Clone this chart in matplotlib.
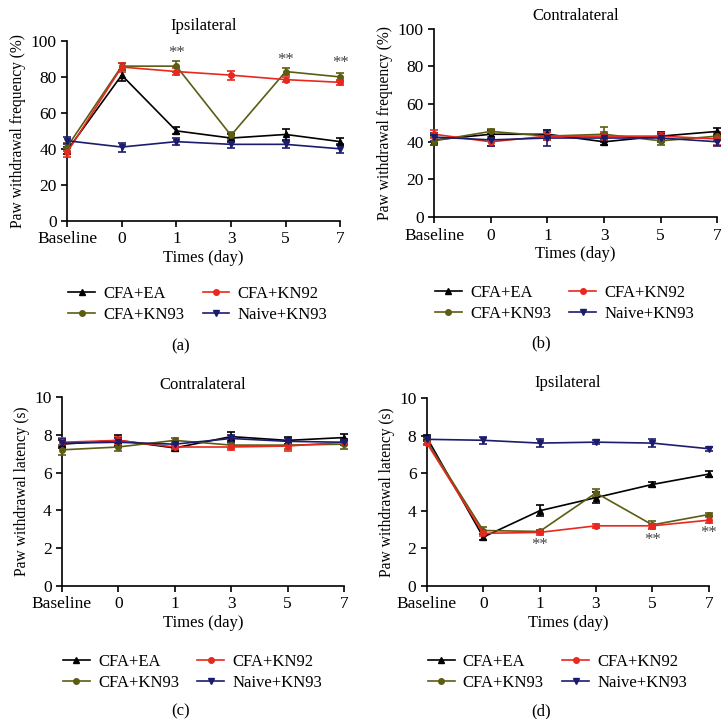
import numpy as np
import matplotlib
matplotlib.use('Agg')
import matplotlib.pyplot as plt
from matplotlib.lines import Line2D

plt.rcParams['font.family'] = ['Liberation Serif', 'DejaVu Serif']
plt.rcParams['font.size'] = 12

tick_labels = ['Baseline', '0', '1', '3', '5', '7']
groups = ['CFA+EA', 'CFA+KN92', 'CFA+KN93', 'Naive+KN93']

# panel (a) ipsilateral frequency
a_ea = [39, 81, 50, 46, 48, 44]
a_kn92 = [38, 85.5, 83, 81, 78.5, 77]
a_kn93 = [41, 86, 86, 47.5, 83, 80]
a_naive = [44.5, 41, 44, 42.5, 42.5, 40]
a_err = [[2, 3, 2, 2, 3, 2], [2.5, 2.5, 2, 2.5, 1.5, 1.5],
         [2, 2, 3, 2, 2, 2], [2, 2.5, 2, 2, 2, 2.5]]

# panel (b) contralateral frequency
b_ea = [41, 44, 44, 40, 43, 45.5]
b_kn92 = [44, 40, 43, 43, 43, 41.5]
b_kn93 = [40.5, 45.5, 43, 44, 40.5, 43]
b_naive = [42.5, 41, 42, 42, 42, 40]
b_err = [[2.5, 2.5, 2.5, 1.5, 2, 2], [2, 2.5, 2, 2, 1.5, 3],
         [2, 1.5, 2, 4, 2, 2], [2, 3, 4, 2, 2, 2.5]]

# panel (c) contralateral latency
c_ea = [7.5, 7.7, 7.3, 7.9, 7.7, 7.85]
c_kn92 = [7.6, 7.7, 7.35, 7.35, 7.4, 7.6]
c_kn93 = [7.2, 7.35, 7.7, 7.45, 7.45, 7.5]
c_naive = [7.55, 7.6, 7.5, 7.8, 7.65, 7.6]
c_err = [[0.2, 0.3, 0.15, 0.25, 0.2, 0.2], [0.2, 0.2, 0.1, 0.15, 0.25, 0.15],
         [0.25, 0.2, 0.15, 0.15, 0.2, 0.25], [0.2, 0.25, 0.15, 0.2, 0.2, 0.15]]

# panel (d) ipsilateral latency
d_ea = [7.9, 2.6, 4.0, 4.7, 5.4, 5.95]
d_kn92 = [7.6, 2.8, 2.85, 3.2, 3.2, 3.5]
d_kn93 = [7.7, 2.95, 2.9, 4.95, 3.25, 3.8]
d_naive = [7.8, 7.75, 7.6, 7.65, 7.6, 7.3]
d_err = [[0.15, 0.15, 0.3, 0.3, 0.15, 0.15], [0.1, 0.15, 0.15, 0.1, 0.1, 0.15],
         [0.15, 0.2, 0.1, 0.2, 0.2, 0.1], [0.1, 0.2, 0.2, 0.1, 0.2, 0.1]]

colors = ['#000000', '#e8281e', '#5c5c14', '#1c1c6e']
markers = ['^', 'o', 'o', 'v']
order = [0, 2, 1, 3]  # draw order
leg_order = [0, 2, 1, 3]  # column-major: EA, KN93 | KN92, Naive

x = np.arange(len(tick_labels))

fig = plt.figure(figsize=(7.21, 7.19), dpi=100)

panels = [
    ([0.093, 0.693, 0.379, 0.250], [a_ea, a_kn92, a_kn93, a_naive], a_err, 'Ipsilateral',
     'Paw withdrawal frequency (%)', 100, 20, '(a)', 0.25, 8),
    ([0.602, 0.698, 0.393, 0.262], [b_ea, b_kn92, b_kn93, b_naive], b_err, 'Contralateral',
     'Paw withdrawal frequency (%)', 100, 20, '(b)', 0.75, 6),
    ([0.086, 0.185, 0.391, 0.263], [c_ea, c_kn92, c_kn93, c_naive], c_err, 'Contralateral',
     'Paw withdrawal latency (s)', 10, 2, '(c)', 0.25, 6),
    ([0.592, 0.185, 0.391, 0.2615], [d_ea, d_kn92, d_kn93, d_naive], d_err, 'Ipsilateral',
     'Paw withdrawal latency (s)', 10, 2, '(d)', 0.75, 8),
]

axes = []
for rect, series, errs, title, ylabel, ymax, ystep, cap, capx, tpad in panels:
    ax = fig.add_axes(rect)
    for i in order:
        ax.errorbar(x, series[i], yerr=errs[i], color=colors[i], marker=markers[i],
                    markersize=4, lw=1.2, elinewidth=1.2, capsize=3, capthick=1.2,
                    clip_on=False, zorder=3)
    ax.set_xlim(0, 5)
    ax.set_ylim(0, ymax)
    ax.set_yticks(np.arange(0, ymax + 1, ystep))
    ax.set_xticks(x)
    ax.set_xticklabels(tick_labels)
    ax.spines['top'].set_visible(False)
    ax.spines['right'].set_visible(False)
    ax.tick_params(direction='out', length=4, width=1.2, labelsize=12.5)
    for s in ['left', 'bottom']:
        ax.spines[s].set_linewidth(1.2)
    ax.set_title(title, fontsize=12, pad=tpad)
    ax.set_ylabel(ylabel, fontsize=11.2, labelpad=3)
    ax.set_xlabel('Times (day)', fontsize=12, labelpad=2)
    handles = [Line2D([], [], color=colors[i], marker=markers[i], markersize=4, lw=1.2)
               for i in leg_order]
    ax.legend(handles, [groups[i] for i in leg_order], ncol=2, frameon=False,
              loc='upper left', bbox_to_anchor=(-0.02, -0.325), fontsize=12,
              handlelength=1.6, handletextpad=0.5, columnspacing=1.1,
              labelspacing=0.3, borderaxespad=0)
    fig.text(capx, rect[1] - 0.175, cap, ha='center', va='center', fontsize=12)
    axes.append(ax)

# significance marks
for xi, yi in zip([2, 4, 5], [93.5, 89.5, 87.5]):
    axes[0].text(xi, yi, '**', color='#444444', ha='center', va='center', fontsize=12)
for xi, yi in zip([2, 4, 5], [2.2, 2.45, 2.8]):
    axes[3].text(xi, yi, '**', color='#444444', ha='center', va='center', fontsize=12)

fig.savefig('out.png', dpi=100)
